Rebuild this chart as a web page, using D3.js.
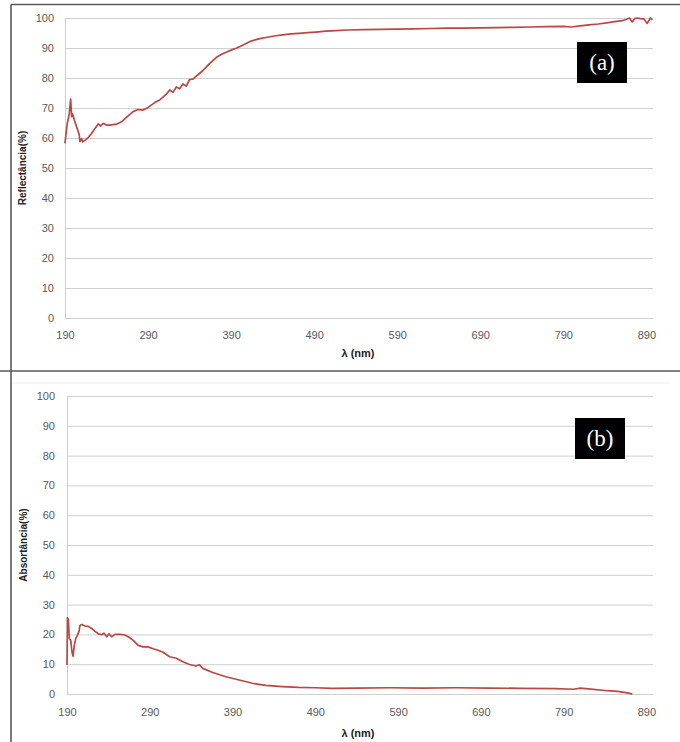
<!DOCTYPE html>
<html><head><meta charset="utf-8">
<script src="https://cdn.jsdelivr.net/npm/d3@7"></script>
<style>body{margin:0;background:#fff}svg{display:block}</style>
</head><body>
<svg id="c" width="680" height="742"></svg>
<script>
// ---- data ----
const xTicks = [190, 290, 390, 490, 590, 690, 790, 890];
const yTicks = [0, 10, 20, 30, 40, 50, 60, 70, 80, 90, 100];

const reflWavelength = [190,191.2,192.8,195.2,196.8,198,199.2,201.2,203.2,205.2,207.2,208,210,211.2,214,218,222,226,230,233,236,240,244,252,258,264,272,278,284,290,298,304,308,312,316,320,324,328,332,336,340,344,348,352,356,360,364,368,372,378,384,390,396,402,408,414,420,426,432,442,452,462,472,482,492,504,516,530,550,570,590,610,630,650,670,690,710,730,750,770,790,800,810,821,832,842,852,861,866,869.6,873,876,879,883,887,891,895,897];
const reflValue = [58.2,61.5,64.9,68.2,73,67.1,68,66,64.3,62.7,61,58.8,59.8,58.7,59.2,60.2,61.5,63.2,64.7,64,64.9,64.3,64.3,64.6,65.4,66.9,68.8,69.5,69.3,70.2,71.8,72.7,73.6,74.6,76,75.2,77,76.4,78,77.3,79.5,79.6,80.6,81.5,82.5,83.6,84.8,85.8,86.8,87.8,88.6,89.3,89.9,90.7,91.5,92.3,92.8,93.2,93.5,94,94.4,94.7,94.9,95.1,95.3,95.6,95.8,96,96.1,96.2,96.3,96.4,96.5,96.6,96.6,96.7,96.8,96.9,97,97.1,97.2,97.0,97.4,97.7,98.0,98.4,98.8,99.1,99.6,100,98.7,99.8,100,99.8,99.7,98.2,100,99.4];

const absWavelength = [190,190.5,191.6,192.8,194.5,196,197.3,198.8,200.5,202.5,204.5,205.7,207.8,211.8,215.8,219.8,223.9,227.9,232,234.7,238,240.8,244,248,254,260,264,270,276,282,288,294,300,306,314,322,330,338,346,350,354,366,382,398,414,430,450,470,490,511,540,580,620,660,700,740,780,802,810,820,843,855,867,873];
const absValue = [9.7,25.6,25.0,18.6,18,14.1,12.7,16.3,18.6,19.7,21,23,23.3,22.8,22.7,22,21,20.2,19.9,20.4,19.2,20.2,19.2,20,20,19.8,19.2,18,16.3,15.8,15.8,15.2,14.7,14,12.5,12,10.8,9.9,9.4,9.8,8.6,7.2,5.8,4.7,3.6,2.9,2.5,2.2,2.1,1.9,2.0,2.1,2.0,2.1,2.0,1.9,1.8,1.6,2.0,1.7,1.1,0.9,0.4,0];

// ---- drawing ----
const svg = d3.select("#c");
const lineColor = "#b94845";
const gridColor = "#cfcfcf";
const font = "'Liberation Sans', Arial, sans-serif";

// frames
svg.append("line").attr("x1",11).attr("x2",11).attr("y1",4.5).attr("y2",742).attr("stroke","#5a5a5a").attr("stroke-width",1.6);
svg.append("line").attr("x1",11).attr("x2",680).attr("y1",4.5).attr("y2",4.5).attr("stroke","#5a5a5a").attr("stroke-width",1.6);
svg.append("line").attr("x1",0).attr("x2",680).attr("y1",371).attr("y2",371).attr("stroke","#5a5a5a").attr("stroke-width",1.6);
svg.append("line").attr("x1",12).attr("x2",670).attr("y1",383).attr("y2",383).attr("stroke","#efefef").attr("stroke-width",1);

function panel(o) {
  const x = d3.scaleLinear().domain([190, 898]).range([o.left, 653]);
  const y = d3.scaleLinear().domain([0, 100]).range([o.bottom, o.top]);
  const g = svg.append("g");

  // gridlines
  const gy = d3.axisLeft(y).tickValues(yTicks).tickSize(-(653 - o.left)).tickFormat(d3.format("d")).tickPadding(o.left - o.labelEnd);
  const ay = g.append("g").attr("transform", `translate(${o.left},0)`).call(gy);
  ay.select(".domain").attr("stroke", gridColor);
  ay.selectAll(".tick line").attr("stroke", gridColor).attr("stroke-width", 1);
  ay.selectAll(".tick text").attr("fill", "#595959").style("font-family", font).style("font-size", "11px");

  const gx = d3.axisBottom(x).tickValues(xTicks).tickSize(0).tickFormat(d3.format("d")).tickPadding(o.xPad);
  const ax = g.append("g").attr("transform", `translate(0,${o.bottom})`).call(gx);
  ax.select(".domain").remove();
  ax.selectAll(".tick text").attr("fill", "#595959").style("font-family", font).style("font-size", "11px");

  // data line
  const line = d3.line().x(d => x(d[0])).y(d => y(Math.min(d[1], 100)));
  g.append("path").datum(d3.zip(o.xs, o.ys)).attr("d", line)
    .attr("fill", "none").attr("stroke", lineColor).attr("stroke-width", 1.7).attr("stroke-linejoin", "round");

  // titles
  g.append("text").attr("x", 358).attr("y", o.xTitleY).attr("text-anchor", "middle")
    .style("font-family", font).style("font-size", "11px").style("font-weight", "bold").attr("fill", "#222").text("λ (nm)");
  g.append("text").attr("transform", `translate(${o.yTitleX},${(o.top + o.bottom) / 2}) rotate(-90)`).attr("text-anchor", "middle")
    .style("font-family", font).style("font-size", "10px").style("font-weight", "bold").attr("fill", "#222").text(o.yTitle);

  // panel tag
  g.append("rect").attr("x", o.box[0]).attr("y", o.box[1]).attr("width", 50).attr("height", 41).attr("fill", "#000");
  g.append("text").attr("x", o.box[0] + 25).attr("y", o.box[1] + 28).attr("text-anchor", "middle")
    .style("font-family", "'Liberation Serif', 'DejaVu Serif', serif").style("font-size", "23px").attr("fill", "#fff").text(o.tag);
}

panel({left: 65, top: 18, bottom: 318, labelEnd: 54, xPad: 13, xTitleY: 357, yTitleX: 26,
       yTitle: "Reflectância(%)", xs: reflWavelength, ys: reflValue, box: [577, 42], tag: "(a)"});
panel({left: 67, top: 396, bottom: 694, labelEnd: 55, xPad: 14, xTitleY: 737, yTitleX: 27,
       yTitle: "Absortância(%)", xs: absWavelength, ys: absValue, box: [575, 418], tag: "(b)"});
</script>
</body></html>
